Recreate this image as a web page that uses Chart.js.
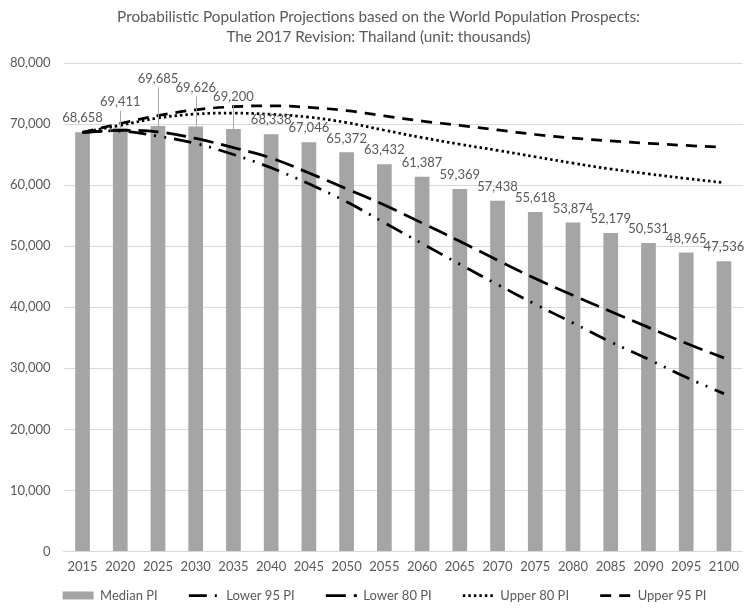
<!DOCTYPE html>
<html><head><meta charset="utf-8">
<script src="https://cdn.jsdelivr.net/npm/chart.js@4.4.1/dist/chart.umd.min.js"></script>
<style>html,body{margin:0;padding:0;background:#fff;overflow:hidden}#wrap{width:747px;height:610px}</style>
</head><body><div id="wrap"><canvas id="c" width="747" height="610"></canvas></div>
<script>
const years = ['2015','2020','2025','2030','2035','2040','2045','2050','2055','2060','2065','2070','2075','2080','2085','2090','2095','2100'];
const medianPI = [68658,69411,69685,69626,69200,68338,67046,65372,63432,61387,59369,57438,55618,53874,52179,50531,48965,47536];
const lower95PI = [68658,68850,68030,66830,65030,62840,60220,57270,53850,50440,47050,43720,40490,37430,34320,31480,28520,25850];
const lower80PI = [68658,68960,68740,67650,66150,64450,62000,59400,56750,53800,50800,47700,44700,41950,39300,36700,34100,31700];
const upper80PI = [68658,69800,71000,71650,71800,71600,71150,70250,69000,67800,66700,65700,64650,63600,62650,61850,61100,60400];
const upper95PI = [68658,70100,71400,72350,72850,73000,72750,72200,71350,70500,69800,69050,68300,67700,67250,66850,66500,66200];
const yMin = 0, yMax = 80000, yStep = 10000;
const titleLines = ['Probabilistic Population Projections based on the World Population Prospects:','The 2017 Revision: Thailand (unit: thousands)'];

const FONT = 'Lato, "Open Sans", sans-serif';
const GREY = '#595959';
Chart.defaults.font.family = FONT;
Chart.defaults.color = GREY;

const labelOffsets = {0:15, 1:26, 2:47.6, 3:39, 4:32};
const leaderIdx = [1,2,3,4];

const barLabels = {
  id: 'barLabels',
  afterLayout(chart) {
    if (chart.legend) { chart.legend.left += 6; chart.legend.right += 6; }
  },
  afterDatasetsDraw(chart) {
    const meta = chart.getDatasetMeta(0);
    const ctx = chart.ctx;
    ctx.save();
    ctx.font = '13px ' + FONT;
    ctx.fillStyle = GREY; ctx.textAlign = 'center'; ctx.textBaseline = 'middle';
    meta.data.forEach((bar, i) => {
      const off = labelOffsets[i] !== undefined ? labelOffsets[i] : 14;
      const y = bar.y - off;
      if (leaderIdx.includes(i)) {
        ctx.strokeStyle = '#a6a6a6'; ctx.lineWidth = 1;
        ctx.beginPath();
        ctx.moveTo(Math.round(bar.x) + 0.5, y + 9);
        ctx.lineTo(Math.round(bar.x) + 0.5, bar.y);
        ctx.stroke();
      }
      ctx.fillText(medianPI[i].toLocaleString('en-US'), bar.x, y);
    });
    ctx.restore();
  }
};

function lineDs(label, data, dash) {
  return { type: 'line', label, data, borderColor: '#000', backgroundColor: '#000', borderWidth: 2.75,
    borderDash: dash, borderCapStyle: 'butt', pointRadius: 0, pointHoverRadius: 0, tension: 0.4, fill: false };
}

new Chart(document.getElementById('c'), {
  type: 'bar',
  data: {
    labels: years,
    datasets: [
      { label: 'Median PI', data: medianPI, backgroundColor: '#a5a5a5', borderWidth: 0, barPercentage: 0.39, categoryPercentage: 1, order: 10 },
      lineDs('Lower 95 PI', lower95PI, [18, 8, 2, 8, 2, 8]),
      lineDs('Lower 80 PI', lower80PI, [20, 8]),
      lineDs('Upper 80 PI', upper80PI, [2.5, 3]),
      lineDs('Upper 95 PI', upper95PI, [11, 8])
    ]
  },
  options: {
    responsive: false, animation: false,
    layout: { padding: { top: 0, left: 10, right: 0, bottom: -2 } },
    plugins: {
      title: { display: true, text: titleLines, color: GREY, font: { size: 15.3, weight: 'normal', lineHeight: 1.31 }, padding: { top: 7, bottom: 16 } },
      legend: {
        position: 'bottom',
        labels: {
          usePointStyle: true, pointStyleWidth: 31, boxHeight: 8, padding: 10, color: GREY, font: { size: 13 },
          generateLabels(chart) {
            const ds = chart.data.datasets;
            return ds.map((d, i) => ({
              text: d.label + (i < ds.length - 1 ? '\u2002\u2002\u2002\u2009' : ''),
              fillStyle: d.type === 'line' ? 'rgba(0,0,0,0)' : d.backgroundColor,
              strokeStyle: d.type === 'line' ? d.borderColor : d.backgroundColor,
              lineWidth: d.type === 'line' ? d.borderWidth : 0,
              lineDash: d.borderDash || [],
              lineCap: 'butt',
              pointStyle: d.type === 'line' ? 'line' : 'rect',
              fontColor: GREY,
              hidden: !chart.isDatasetVisible(i),
              datasetIndex: i
            }));
          }
        }
      },
      tooltip: { enabled: false }
    },
    scales: {
      x: { grid: { display: false, drawTicks: false }, border: { color: '#d9d9d9' },
        ticks: { padding: 8, color: GREY, font: { size: 13 }, maxRotation: 0, autoSkip: false },
        afterFit(s) { s.height -= 4; } },
      y: { min: yMin, max: yMax, grid: { color: '#d9d9d9', drawTicks: false }, border: { display: false },
        ticks: { stepSize: yStep, padding: 13, color: GREY, font: { size: 13 }, callback: v => Number(v).toLocaleString('en-US') },
        afterFit(s) { s.width -= 13; } }
    }
  },
  plugins: [barLabels]
});
</script></body></html>
